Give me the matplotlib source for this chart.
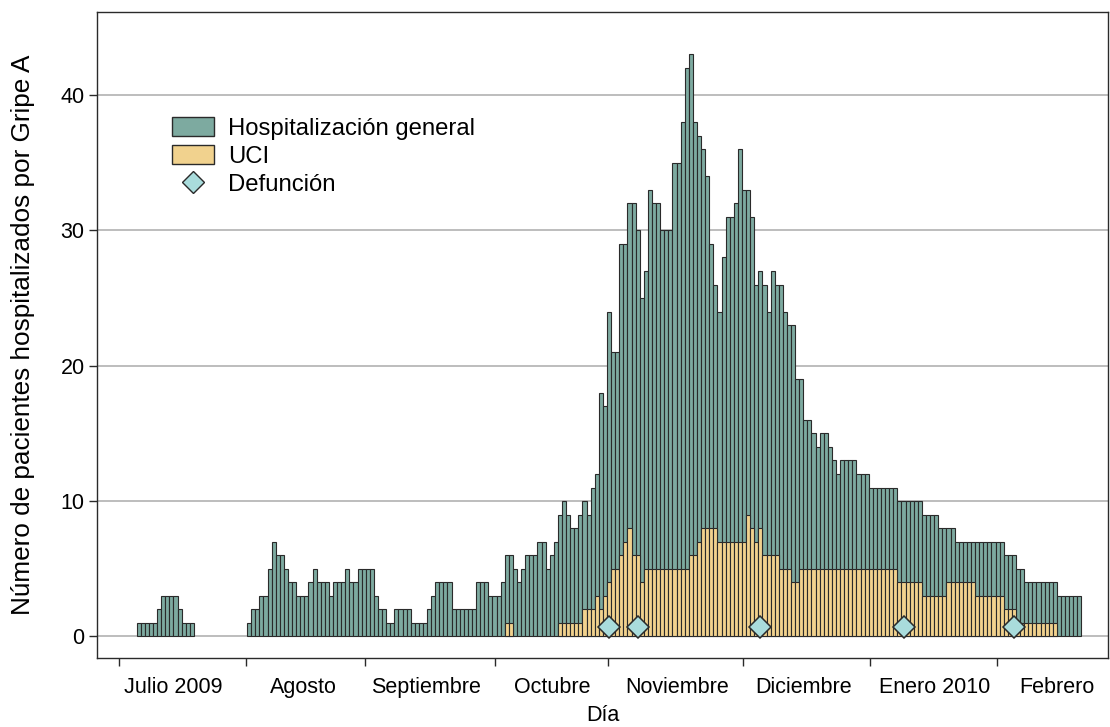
import numpy as np
import matplotlib
matplotlib.use("Agg")
import matplotlib.pyplot as plt
from matplotlib.patches import Patch
from matplotlib.lines import Line2D

plt.rcParams['font.family'] = ['Liberation Sans', 'DejaVu Sans']

# ---------------- data (one value per day, starting early July 2009) ----------------
hosp_total = (
    [1, 1, 1, 1, 1, 2, 3, 3, 3, 3, 2, 1, 1, 1]
    + [0] * 13
    + [1, 2, 2, 3, 3, 5, 7, 6, 6, 5, 4, 4, 3, 3, 3, 4, 5, 4, 4, 4]
    + [3, 4, 4, 4, 5, 4, 4, 5, 5, 5, 5, 3, 2, 2, 1, 1, 2, 2, 2, 2, 1, 1, 1, 1,
       2, 3, 4, 4, 4, 4, 2, 2, 2, 2, 2, 2, 4, 4, 4]
    + [3, 3, 3, 4, 6, 6, 5, 4, 5, 6, 6, 6, 7, 7, 5, 6, 7, 9, 10, 9, 8, 8, 9, 10,
       9, 11, 12, 18, 17, 24]
    + [21, 21, 29, 29, 32, 32, 30, 25, 27, 33, 32, 32, 30, 30, 30, 35, 35, 38,
       42, 43, 38, 37, 36, 34, 29, 26, 24, 28, 31, 31, 32, 36, 33, 33]
    + [31, 26, 27, 26, 24, 27, 26, 26, 24, 23, 23, 19, 19, 16, 16, 15, 14, 15,
       15, 14, 13, 12, 13, 13, 13, 13, 12, 12, 12]
    + [11] * 7 + [10] * 6 + [9] * 4 + [8] * 4 + [7] * 12 + [6] * 3 + [5] * 2
    + [4] * 8 + [3] * 6
)

uci = (
    [0] * 90
    + [1, 1]
    + [0] * 11
    + [1] * 6
    + [2, 2, 2, 3, 2, 3, 4, 5, 5, 6, 7, 8, 6, 6, 4]
    + [5] * 11
    + [6, 6, 7, 8, 8, 8, 8]
    + [7] * 7
    + [9, 8, 7, 8, 6, 6, 6, 6, 5, 5, 5, 4, 4]
    + [5] * 24
    + [4] * 6
    + [3] * 6
    + [4] * 7
    + [3] * 7
    + [2] * 3
    + [1] * 10
    + [0] * 6
)

death_days = [115, 122, 152, 187, 214]

month_labels = ["Julio 2009", "Agosto", "Septiembre", "Octubre",
                "Noviembre", "Diciembre", "Enero 2010", "Febrero"]
month_tick_pos = [-4.83, 26.22, 55.32, 87.10, 114.73, 147.74, 178.79, 209.84]
month_label_pos = [8.4, 40.15, 70.23, 101.03, 131.73, 162.65, 194.68, 224.53]

series_labels = ["Hospitalización general", "UCI", "Defunción"]

# ---------------- styling ----------------
teal = "#7daaa0"
yellow = "#f1d28e"
diamond_fc = "#a9dcdc"
edge = "#2a2a2a"
fs = 15.5
fs_big = 17.2

fig = plt.figure(figsize=(11.1, 7.27), dpi=100)
ax = fig.add_axes([97 / 1110, 1 - 658 / 727, 1011 / 1110, 646 / 727])

hosp = np.array(hosp_total)
u = np.array(uci)
days = np.arange(len(hosp))

m = hosp > 0
ax.bar(days[m], hosp[m], width=1.0, color=teal, edgecolor=edge,
       linewidth=0.8, zorder=2)
mu = u > 0
ax.bar(days[mu], u[mu], width=1.0, color=yellow, edgecolor=edge,
       linewidth=0.8, zorder=3)
ax.plot(death_days, [0.7] * len(death_days), linestyle="none", marker="D",
        markersize=11, markerfacecolor=diamond_fc, markeredgecolor=edge,
        markeredgewidth=1.1, zorder=4)

ax.set_xlim(-10.2, 237.0)
ax.set_ylim(-1.59, 46.13)

ax.set_yticks([0, 10, 20, 30, 40])
ax.yaxis.grid(True, color="#ababab", linewidth=1.1)
ax.set_axisbelow(True)

ax.set_xticks(month_tick_pos)
ax.set_xticklabels([""] * len(month_tick_pos))
ax.set_xticks(month_label_pos, minor=True)
ax.set_xticklabels(month_labels, minor=True, fontsize=fs)
ax.tick_params(axis="x", which="major", direction="out", length=6,
               width=1, color=edge)
ax.tick_params(axis="x", which="minor", length=0, pad=14)
ax.tick_params(axis="y", direction="out", length=6, width=1, color=edge,
               labelsize=fs, pad=3)

for sp in ax.spines.values():
    sp.set_color(edge)
    sp.set_linewidth(1.0)

ax.set_xlabel("Día", fontsize=fs)
ax.xaxis.set_label_coords(0.5, -0.072)
ax.set_ylabel("Número de pacientes hospitalizados por Gripe A", fontsize=18.8)
ax.yaxis.set_label_coords(-0.061, 0.5)

handles = [
    Patch(facecolor=teal, edgecolor=edge, linewidth=1.0),
    Patch(facecolor=yellow, edgecolor=edge, linewidth=1.0),
    Line2D([], [], linestyle="none", marker="D", markersize=11,
           markerfacecolor=diamond_fc, markeredgecolor=edge),
]
ax.legend(handles, series_labels, loc="upper left",
          bbox_to_anchor=(0.0742, 0.837), frameon=False, borderaxespad=0,
          borderpad=0, handlelength=1.75, handleheight=0.85,
          handletextpad=0.6, labelspacing=0.22, fontsize=fs_big)

fig.savefig("out.png", dpi=100)
